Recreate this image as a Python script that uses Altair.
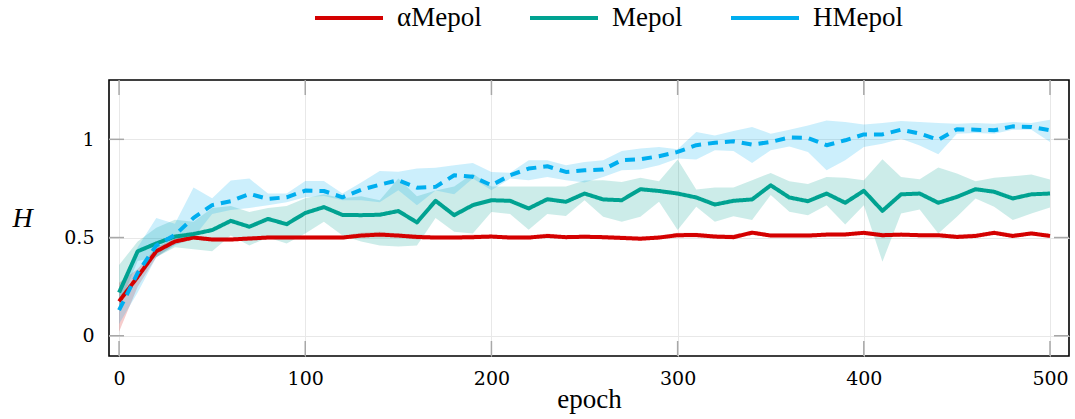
import altair as alt
import pandas as pd

epochs = list(range(0, 501, 10))
series_names = ["αMepol", "Mepol", "HMepol"]
series_colors = ["#d40000", "#00a291", "#00aeef"]
series_dash = [[1, 0], [1, 0], [10, 7]]

alpha_mean = [0.175, 0.30, 0.43, 0.48, 0.50, 0.49, 0.49, 0.495, 0.50, 0.50,
              0.50, 0.50, 0.50, 0.51, 0.515, 0.51, 0.503, 0.50, 0.50, 0.502,
              0.505, 0.50, 0.50, 0.508, 0.502, 0.504, 0.502, 0.498, 0.494, 0.50,
              0.512, 0.513, 0.505, 0.502, 0.525, 0.51, 0.51, 0.51, 0.515, 0.516,
              0.524, 0.512, 0.515, 0.512, 0.512, 0.503, 0.508, 0.524, 0.508, 0.521,
              0.508]
alpha_lo = [0.02, 0.25, 0.40, 0.465, 0.49, 0.48, 0.48, 0.485, 0.49, 0.49,
            0.49, 0.49, 0.49, 0.50, 0.50, 0.50, 0.49, 0.49, 0.49, 0.49,
            0.495, 0.49, 0.49, 0.50, 0.49, 0.495, 0.49, 0.49, 0.485, 0.49,
            0.50, 0.50, 0.495, 0.49, 0.515, 0.50, 0.50, 0.50, 0.505, 0.505,
            0.515, 0.50, 0.505, 0.50, 0.50, 0.495, 0.50, 0.515, 0.50, 0.51,
            0.50]
alpha_hi = [0.27, 0.34, 0.45, 0.495, 0.51, 0.50, 0.50, 0.505, 0.51, 0.51,
            0.51, 0.51, 0.51, 0.525, 0.53, 0.52, 0.515, 0.51, 0.51, 0.515,
            0.515, 0.51, 0.51, 0.52, 0.51, 0.515, 0.51, 0.51, 0.505, 0.51,
            0.525, 0.525, 0.515, 0.515, 0.535, 0.52, 0.52, 0.52, 0.525, 0.525,
            0.535, 0.525, 0.525, 0.52, 0.52, 0.515, 0.52, 0.535, 0.52, 0.53,
            0.52]

mepol_mean = [0.22, 0.43, 0.47, 0.505, 0.518, 0.538, 0.585, 0.555, 0.595, 0.568,
              0.625, 0.655, 0.615, 0.614, 0.616, 0.635, 0.577, 0.687, 0.614, 0.665,
              0.690, 0.687, 0.648, 0.695, 0.682, 0.724, 0.694, 0.690, 0.746, 0.737,
              0.724, 0.704, 0.668, 0.687, 0.694, 0.766, 0.704, 0.685, 0.724, 0.677,
              0.738, 0.636, 0.720, 0.724, 0.677, 0.707, 0.746, 0.733, 0.699, 0.720,
              0.724]
mepol_lo = [0.15, 0.38, 0.40, 0.45, 0.44, 0.43, 0.51, 0.46, 0.50, 0.47,
            0.52, 0.58, 0.51, 0.48, 0.46, 0.455, 0.46, 0.60, 0.53, 0.52,
            0.63, 0.62, 0.54, 0.62, 0.61, 0.69, 0.606, 0.58, 0.606, 0.682,
            0.538, 0.657, 0.58, 0.609, 0.589, 0.716, 0.631, 0.614, 0.665, 0.567,
            0.665, 0.377, 0.623, 0.643, 0.521, 0.606, 0.699, 0.657, 0.589, 0.623,
            0.653]
mepol_hi = [0.36, 0.48, 0.55, 0.59, 0.58, 0.65, 0.66, 0.63, 0.65, 0.66,
            0.70, 0.72, 0.70, 0.71, 0.69, 0.80, 0.71, 0.74, 0.76, 0.826,
            0.76, 0.76, 0.76, 0.76, 0.76, 0.79, 0.792, 0.783, 0.805, 0.787,
            0.897, 0.744, 0.755, 0.755, 0.792, 0.829, 0.787, 0.772, 0.808, 0.804,
            0.792, 0.899, 0.808, 0.797, 0.856, 0.826, 0.787, 0.805, 0.812, 0.821,
            0.795]

hmepol_mean = [0.13, 0.32, 0.46, 0.513, 0.60, 0.665, 0.685, 0.722, 0.697, 0.705,
               0.739, 0.737, 0.705, 0.743, 0.769, 0.792, 0.754, 0.758, 0.817, 0.809,
               0.766, 0.817, 0.851, 0.863, 0.834, 0.842, 0.846, 0.894, 0.899, 0.914,
               0.936, 0.970, 0.983, 0.990, 0.973, 0.987, 1.009, 1.007, 0.970, 0.995,
               1.025, 1.025, 1.049, 1.029, 0.998, 1.051, 1.049, 1.046, 1.066, 1.063,
               1.046]
hmepol_lo = [0.06, 0.22, 0.40, 0.46, 0.50, 0.62, 0.64, 0.65, 0.665, 0.68,
             0.705, 0.712, 0.69, 0.69, 0.68, 0.741, 0.665, 0.74, 0.72, 0.80,
             0.741, 0.80, 0.792, 0.808, 0.792, 0.78, 0.808, 0.843, 0.846, 0.868,
             0.902, 0.897, 0.944, 0.941, 0.880, 0.944, 0.964, 0.936, 0.843, 0.893,
             0.961, 0.978, 1.003, 0.969, 0.924, 1.029, 1.032, 1.029, 1.049, 1.049,
             0.986]
hmepol_hi = [0.22, 0.45, 0.60, 0.57, 0.755, 0.70, 0.79, 0.80, 0.724, 0.724,
             0.788, 0.788, 0.724, 0.78, 0.839, 0.835, 0.851, 0.855, 0.868, 0.88,
             0.834, 0.83, 0.894, 0.894, 0.868, 0.885, 0.894, 0.94, 0.953, 0.961,
             0.95, 1.037, 1.020, 1.042, 1.063, 1.029, 1.049, 1.071, 1.096, 1.088,
             1.076, 1.083, 1.093, 1.088, 1.083, 1.079, 1.083, 1.079, 1.088, 1.083,
             1.100]

x_ticks = [0, 100, 200, 300, 400, 500]
y_ticks = [0, 0.5, 1]

W, H = 960, 276
X_DOMAIN = [-5.4, 510.2]
Y_DOMAIN = [-0.103, 1.302]
SERIF = "Liberation Serif"
TICKFONT = "DejaVu Serif"

rows = []
for name, m, lo, hi in [
    (series_names[0], alpha_mean, alpha_lo, alpha_hi),
    (series_names[1], mepol_mean, mepol_lo, mepol_hi),
    (series_names[2], hmepol_mean, hmepol_lo, hmepol_hi),
]:
    for e, a, b, c in zip(epochs, m, lo, hi):
        rows.append({"series": name, "band": name, "epoch": e,
                     "mean": a, "lo": b, "hi": c})
df = pd.DataFrame(rows)

xscale = alt.Scale(domain=X_DOMAIN, nice=False, zero=False)
yscale = alt.Scale(domain=Y_DOMAIN, nice=False, zero=False)
color_scale = alt.Scale(domain=series_names, range=series_colors)
dash_scale = alt.Scale(domain=series_names, range=series_dash)

x_axis = alt.Axis(values=x_ticks, title="epoch", labelFont=TICKFONT, labelFontSize=19,
                  labelColor="#000", labelPadding=13, ticks=False, domain=False,
                  grid=True, gridColor="#e8e8e8", gridWidth=1, format="d",
                  titleFont=SERIF, titleFontSize=27, titleFontWeight="normal",
                  titleColor="#000", titleBaseline="alphabetic", titleY=51)
y_axis = alt.Axis(values=y_ticks, title="H", labelFont=TICKFONT, labelFontSize=19,
                  labelColor="#000", labelPadding=15, ticks=False, domain=False,
                  grid=True, gridColor="#e8e8e8", gridWidth=1, format="~g",
                  titleFont=SERIF, titleFontSize=28, titleFontStyle="italic",
                  titleFontWeight="normal", titleColor="#000", titleAngle=0,
                  titleAlign="center", titleBaseline="middle", titleX=-87, titleY=138)

base = alt.Chart(df)

bands = base.mark_area(fillOpacity=0.2, clip=True, interpolate="linear").encode(
    x=alt.X("epoch:Q", scale=xscale, axis=x_axis),
    y=alt.Y("lo:Q", scale=yscale, axis=y_axis),
    y2="hi:Q",
    fill=alt.Fill("band:N", scale=color_scale, legend=None),
    detail="band:N",
)

legend = alt.Legend(title=None, orient="none", direction="horizontal",
                    legendX=204, legendY=-98,
                    symbolType="stroke", symbolSize=4624,
                    symbolStrokeWidth=4, labelFont=SERIF,
                    labelFontSize=27, labelFontWeight="normal", labelColor="#000",
                    labelOffset=12, columnPadding=40)

lines = base.mark_line(strokeWidth=4, clip=True, strokeCap="butt", strokeJoin="round").encode(
    x=alt.X("epoch:Q", scale=xscale),
    y=alt.Y("mean:Q", scale=yscale),
    stroke=alt.Stroke("series:N", scale=color_scale, legend=legend),
    strokeDash=alt.StrokeDash("series:N", scale=dash_scale, legend=None),
    order=alt.Order("epoch:Q"),
)

xt = pd.DataFrame({"t": x_ticks})
yt = pd.DataFrame({"t": y_ticks})
tick_style = dict(color="#a8a8a8", strokeWidth=1.5)
bottom_ticks = alt.Chart(xt).mark_rule(**tick_style).encode(
    x=alt.X("t:Q", scale=xscale), y=alt.value(H), y2=alt.value(H - 15))
top_ticks = alt.Chart(xt).mark_rule(**tick_style).encode(
    x=alt.X("t:Q", scale=xscale), y=alt.value(0), y2=alt.value(15))
left_ticks = alt.Chart(yt).mark_rule(**tick_style).encode(
    y=alt.Y("t:Q", scale=yscale), x=alt.value(0), x2=alt.value(15))
right_ticks = alt.Chart(yt).mark_rule(**tick_style).encode(
    y=alt.Y("t:Q", scale=yscale), x=alt.value(W), x2=alt.value(W - 15))

chart = alt.layer(bands, bottom_ticks, top_ticks, left_ticks, right_ticks, lines).resolve_scale(
    x="shared", y="shared", fill="independent", stroke="independent"
).properties(
    width=W, height=H,
    padding={"left": 109, "top": 80, "right": 6, "bottom": 63},
    autosize=alt.AutoSizeParams(type="none"),
    background="white",
).configure_view(
    stroke="#000", strokeWidth=1.6
)

chart.save("out.html", embed_options={"renderer": "svg", "actions": False})
